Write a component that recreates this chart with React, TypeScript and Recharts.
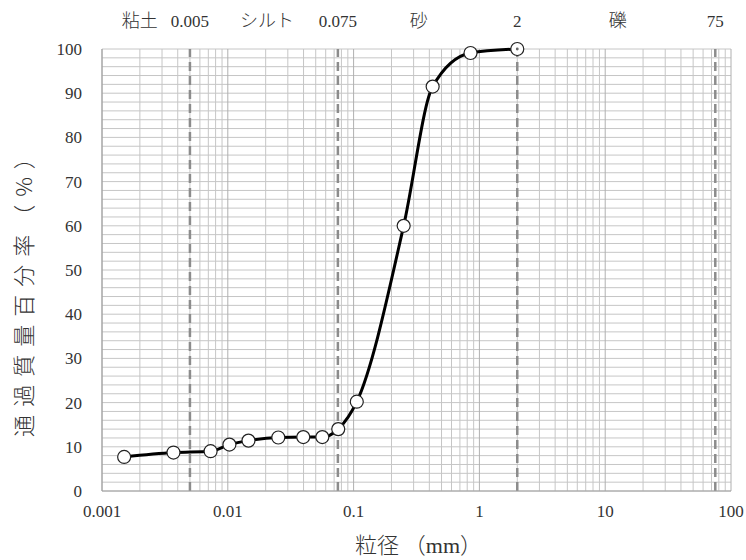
import { LineChart, Line, XAxis, YAxis, ReferenceLine } from 'recharts';

// 粒径 (mm) と 通過質量百分率 (%)
const grainSize = [0.0015, 0.0037, 0.0073, 0.0103, 0.0146, 0.0252, 0.0398, 0.0564, 0.0755, 0.106, 0.25, 0.425, 0.85, 2];
const passing = [7.7, 8.7, 9.0, 10.5, 11.4, 12.1, 12.2, 12.2, 14.0, 20.2, 60.0, 91.5, 99.1, 100];

// 区分の境界
const boundaries = [0.005, 0.075, 2, 75];
const boundaryLabels = ['0.005', '0.075', '2', '75'];

// 区分名と表示位置 (mm)
const zoneNames = ['粘土', 'シルト', '砂', '礫'];
const zoneAt = [0.002, 0.0205, 0.33, 12.6];

const xTicks = [0.001, 0.01, 0.1, 1, 10, 100];
const yTicks = [0, 10, 20, 30, 40, 50, 60, 70, 80, 90, 100];

const data = grainSize.map((d, i) => ({ d, p: passing[i] }));

// 方眼：縦は各桁の1〜9、横は2%おき
const gridX: number[] = [];
for (let e = -3; e < 2; e++) {
  for (let m = 1; m < 10; m++) gridX.push(Number((m * Math.pow(10, e)).toPrecision(3)));
}
gridX.push(100);
const gridY: number[] = [];
for (let v = 0; v <= 100; v += 2) gridY.push(v);

const NUM_FONT = '"Liberation Serif", "DejaVu Serif", serif';
const JP_FONT = '"Noto Sans CJK JP", sans-serif';
const TEXT = '#333';

const renderDot = (props: any) => {
  const { cx, cy, index } = props;
  return (
    <g key={`dot-${index}`}>
      <circle cx={cx} cy={cy} r={6.5} fill="#fff" stroke="#222" strokeWidth={1.2} />
      {index === grainSize.length - 1 && <circle cx={cx} cy={cy} r={1.4} fill="#666" />}
    </g>
  );
};

const topLabel = (text: string, size: number, font: string) => (props: any) => {
  const vb = props.viewBox || {};
  return (
    <text x={vb.x} y={27} textAnchor="middle" fill={TEXT} style={{ fontFamily: font, fontSize: size, fontWeight: 300 }}>
      {text}
    </text>
  );
};

export default function App() {
  return (
    <div style={{ position: 'absolute', left: 0, top: 0, width: 746, height: 560, background: '#fff' }}>
      <LineChart
        width={746}
        height={560}
        data={data}
        margin={{ top: 49, right: 15, bottom: 0, left: 10 }}
      >
        <XAxis
          dataKey="d"
          type="number"
          scale="log"
          domain={[0.001, 100]}
          ticks={xTicks}
          allowDataOverflow
          height={69}
          tickLine={false}
          axisLine={{ stroke: '#a0a0a0' }}
          tickMargin={8}
          tick={{ fill: TEXT, style: { fontFamily: NUM_FONT, fontSize: 17 } }}
          tickFormatter={(v: number) => String(v)}
          label={(props: any) => {
            const vb = props.viewBox || {};
            return (
              <text x={vb.x + vb.width / 2 + 2} y={553} textAnchor="middle" fill={TEXT} style={{ fontSize: 22 }}>
                <tspan style={{ fontFamily: JP_FONT, fontWeight: 300 }}>粒径 （</tspan>
                <tspan style={{ fontFamily: NUM_FONT }}>mm</tspan>
                <tspan style={{ fontFamily: JP_FONT, fontWeight: 300 }}>）</tspan>
              </text>
            );
          }}
        />
        <YAxis
          type="number"
          domain={[0, 100]}
          ticks={yTicks}
          width={92}
          tickLine={false}
          axisLine={{ stroke: '#a0a0a0' }}
          tickMargin={14}
          tick={{ fill: TEXT, style: { fontFamily: NUM_FONT, fontSize: 17 } }}
          label={(props: any) => {
            const vb = props.viewBox || {};
            const cx = vb.x + 12;
            const cy = vb.y + vb.height / 2 + 18;
            return (
              <text
                x={cx}
                y={cy}
                textAnchor="middle"
                dominantBaseline="central"
                transform={`rotate(-90 ${cx} ${cy})`}
                fill={TEXT}
                style={{ fontFamily: JP_FONT, fontSize: 22, fontWeight: 300, letterSpacing: 8 }}
              >
                通過質量百分率（%）
              </text>
            );
          }}
        />
        {gridY.map((v) => (
          <ReferenceLine key={`gy-${v}`} y={v} stroke="#c6c6c6" strokeWidth={1} />
        ))}
        {gridX.map((v) => (
          <ReferenceLine
            key={`gx-${v}`}
            x={v}
            stroke={xTicks.includes(v) ? '#b0b0b0' : '#c6c6c6'}
            strokeWidth={1}
          />
        ))}
        {boundaries.map((b, i) => (
          <ReferenceLine
            key={`b-${b}`}
            x={b}
            stroke="#8c8c8c"
            strokeWidth={2.5}
            strokeDasharray="9 5"
            label={topLabel(boundaryLabels[i], 17, NUM_FONT)}
          />
        ))}
        {zoneNames.map((z, i) => (
          <ReferenceLine
            key={`z-${z}`}
            x={zoneAt[i]}
            strokeWidth={0}
            strokeOpacity={0}
            label={topLabel(z, 18, JP_FONT)}
          />
        ))}
        <Line
          dataKey="p"
          type="monotone"
          stroke="#000"
          strokeWidth={3}
          dot={renderDot}
          isAnimationActive={false}
        />
      </LineChart>
    </div>
  );
}
